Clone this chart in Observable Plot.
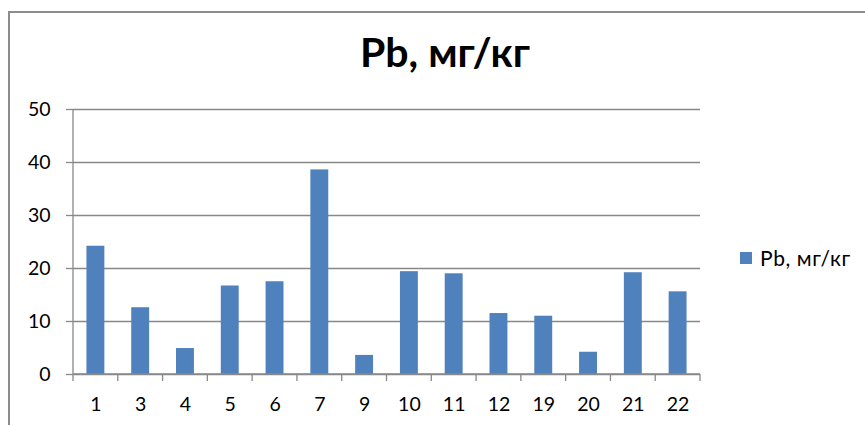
<!DOCTYPE html>
<html>
<head>
<meta charset="utf-8">
<script src="https://cdn.jsdelivr.net/npm/d3@7"></script>
<script src="https://cdn.jsdelivr.net/npm/@observablehq/plot@0.6"></script>
<style>
  html, body { margin: 0; padding: 0; background: #fff; overflow: hidden; }
  #wrap { position: relative; width: 865px; height: 425px; overflow: hidden; font-family: Lato, "Open Sans", sans-serif; }
  #frame { position: absolute; left: 8px; top: 11px; width: 900px; height: 500px; border: 2px solid #8c8c8c; box-sizing: border-box; }
  #title { position: absolute; left: 245px; width: 400px; top: 31px; text-align: center; font-weight: bold; font-size: 41px; color: #000; line-height: 1; }
  #legend { position: absolute; left: 740px; top: 245px; font-size: 21px; letter-spacing: 0.6px; color: #000; display: flex; align-items: center; white-space: nowrap; }
  #legend .sw { display: inline-block; width: 12px; height: 12px; background: #4F81BD; margin-right: 8px; }
  #chart { position: absolute; left: 0; top: 0; }
</style>
</head>
<body>
<div id="wrap">
  <div id="frame"></div>
  <div id="chart"></div>
  <div id="title">Pb, мг/кг</div>
  <div id="legend"><span class="sw"></span><span>Pb, мг/кг</span></div>
</div>
<script>
const categories = ["1", "3", "4", "5", "6", "7", "9", "10", "11", "12", "19", "20", "21", "22"];
const values = [24.2, 12.6, 4.9, 16.7, 17.5, 38.6, 3.6, 19.4, 19.0, 11.5, 11.0, 4.2, 19.2, 15.6];
const yTicks = [0, 10, 20, 30, 40, 50];
const seriesName = "Pb, мг/кг";

const data = categories.map((c, i) => ({cat: c, value: values[i]}));
const gray = "#888888";

// Axis lines and category-boundary tick marks, derived from the plot dimensions
function categoryFrame(index, scales, values, dims) {
  const {width, height, marginLeft, marginRight, marginTop, marginBottom} = dims;
  const g = d3.create("svg:g").attr("stroke", gray).attr("stroke-width", 1.3);
  const x0 = marginLeft, x1 = width - marginRight;
  const yb = height - marginBottom;
  const step = (x1 - x0) / categories.length;
  g.append("line").attr("x1", x0).attr("x2", x0).attr("y1", marginTop).attr("y2", yb + 7);
  g.append("line").attr("x1", x0).attr("x2", x1).attr("y1", yb).attr("y2", yb);
  for (let i = 1; i <= categories.length; i++) {
    const x = x0 + i * step;
    g.append("line").attr("x1", x).attr("x2", x).attr("y1", yb).attr("y2", yb + 7);
  }
  return g.node();
}

const chart = Plot.plot({
  width: 865,
  height: 425,
  marginLeft: 73,
  marginRight: 165,
  marginTop: 109,
  marginBottom: 51,
  style: {fontFamily: "Lato, 'Open Sans', sans-serif", fontSize: "19px", color: "#000", background: "transparent"},
  x: {domain: categories, paddingInner: 0.6, paddingOuter: 0.3, round: false, label: null},
  y: {domain: [0, 50], label: null},
  marks: [
    Plot.gridY(yTicks, {stroke: gray, strokeOpacity: 1, strokeWidth: 1.3}),
    Plot.barY(data, {x: "cat", y: "value", fill: "#4F81BD"}),
    Plot.axisY(yTicks, {tickSize: 7, tickPadding: 16, stroke: gray, strokeWidth: 1.3, fill: "#000", fontSize: 19.5, label: null}),
    Plot.axisX({tickSize: 0, tickPadding: 23, fill: "#000", fontSize: 19.5, label: null}),
    categoryFrame
  ]
});
document.getElementById("chart").appendChild(chart);
document.getElementById("title").textContent = seriesName;
document.querySelector("#legend span:last-child").textContent = seriesName;
</script>
</body>
</html>
